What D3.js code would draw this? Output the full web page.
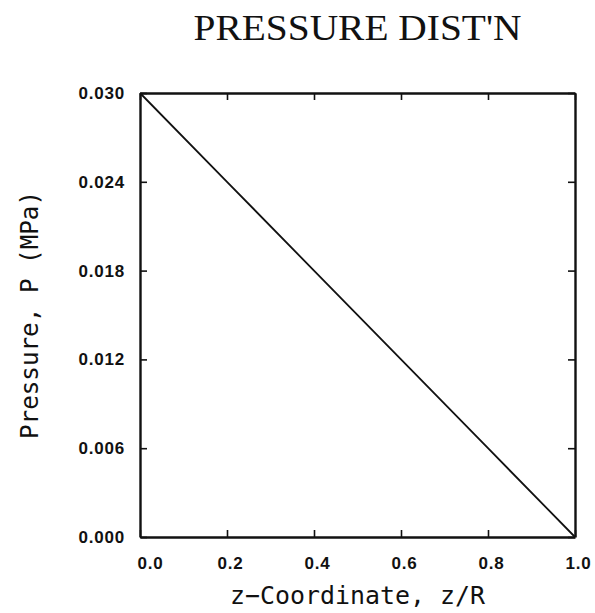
<!DOCTYPE html>
<html>
<head>
<meta charset="utf-8">
<script src="https://cdn.jsdelivr.net/npm/d3@7"></script>
<style>
  html, body { margin: 0; padding: 0; background: #fff; }
  svg { display: block; }
</style>
</head>
<body>
<script>
// Pressure along the axis, linear drop from inlet to outlet
const zValues = [0.0, 0.2, 0.4, 0.6, 0.8, 1.0];
const pValues = [0.030, 0.024, 0.018, 0.012, 0.006, 0.000];

const xTicks = [0.0, 0.2, 0.4, 0.6, 0.8, 1.0];
const xTickLabels = ["0.0", "0.2", "0.4", "0.6", "0.8", "1.0"];
const yTicks = [0.000, 0.006, 0.012, 0.018, 0.024, 0.030];
const yTickLabels = ["0.000", "0.006", "0.012", "0.018", "0.024", "0.030"];

const titleText = "PRESSURE DIST'N";
const xTitle = "z\u2212Coordinate, z/R";
const yTitle = "Pressure, P (MPa)";

const W = 595, H = 613;
const m = { left: 140, right: 20, top: 93, bottom: 76 };
const iw = W - m.left - m.right, ih = H - m.top - m.bottom;

const svg = d3.select("body").append("svg").attr("width", W).attr("height", H);

const x = d3.scaleLinear().domain([0, 1]).range([m.left, m.left + iw]);
const y = d3.scaleLinear().domain([0, 0.030]).range([m.top + ih, m.top]);

const ink = "#111";

// title
svg.append("text")
  .attr("x", x(0.5)).attr("y", 40)
  .attr("text-anchor", "middle")
  .attr("font-family", "'Liberation Serif', 'DejaVu Serif', serif")
  .attr("font-size", 35)
  .attr("textLength", 328).attr("lengthAdjust", "spacingAndGlyphs")
  .attr("fill", ink)
  .text(titleText);

const tickFont = "'Liberation Sans', Arial, sans-serif";

// bottom axis: labels, inward ticks
const axBottom = svg.append("g").attr("transform", `translate(0,${y(0)})`)
  .call(d3.axisBottom(x).tickValues(xTicks).tickSizeInner(-7).tickSizeOuter(0)
    .tickFormat((d, i) => xTickLabels[i]).tickPadding(25));
// top axis: inward ticks, no labels
const axTop = svg.append("g").attr("transform", `translate(0,${y(0.030)})`)
  .call(d3.axisTop(x).tickValues(xTicks).tickSizeInner(-7).tickSizeOuter(0).tickFormat(""));
// left axis
const axLeft = svg.append("g").attr("transform", `translate(${x(0)},0)`)
  .call(d3.axisLeft(y).tickValues(yTicks).tickSizeInner(-7).tickSizeOuter(0)
    .tickFormat((d, i) => yTickLabels[i]).tickPadding(15));
// right axis
const axRight = svg.append("g").attr("transform", `translate(${x(1)},0)`)
  .call(d3.axisRight(y).tickValues(yTicks).tickSizeInner(-7).tickSizeOuter(0).tickFormat(""));

[axBottom, axTop, axLeft, axRight].forEach(g => {
  g.select(".domain").attr("stroke", ink).attr("stroke-width", 2.4);
  g.selectAll(".tick line").attr("stroke", ink).attr("stroke-width", 1.6);
  g.selectAll(".tick text")
    .attr("font-family", tickFont).attr("font-weight", "bold")
    .attr("font-size", 17).attr("fill", ink).attr("letter-spacing", 0.8);
});
axBottom.selectAll(".tick text").attr("dy", "0.4em");
axBottom.selectAll(".tick text").filter((d, i) => i === 0).attr("dx", 10);
axBottom.selectAll(".tick text").filter((d, i) => i > 0).attr("dx", 3);

// axis titles
const monoFont = "'DejaVu Sans Mono', 'Liberation Mono', monospace";
svg.append("text")
  .attr("x", x(0.5)).attr("y", 604)
  .attr("text-anchor", "middle")
  .attr("font-family", monoFont).attr("font-size", 25)
  .attr("textLength", 255).attr("lengthAdjust", "spacingAndGlyphs")
  .attr("fill", ink)
  .text(xTitle);

svg.append("text")
  .attr("transform", `translate(38,${y(0.015)}) rotate(-90)`)
  .attr("text-anchor", "middle")
  .attr("font-family", monoFont).attr("font-size", 25)
  .attr("textLength", 248).attr("lengthAdjust", "spacingAndGlyphs")
  .attr("fill", ink)
  .text(yTitle);

// pressure curve
const pts = zValues.map((z, i) => [z, pValues[i]]);
svg.append("path")
  .datum(pts)
  .attr("fill", "none")
  .attr("stroke", ink)
  .attr("stroke-width", 1.8)
  .attr("d", d3.line().x(d => x(d[0])).y(d => y(d[1])));
</script>
</body>
</html>
